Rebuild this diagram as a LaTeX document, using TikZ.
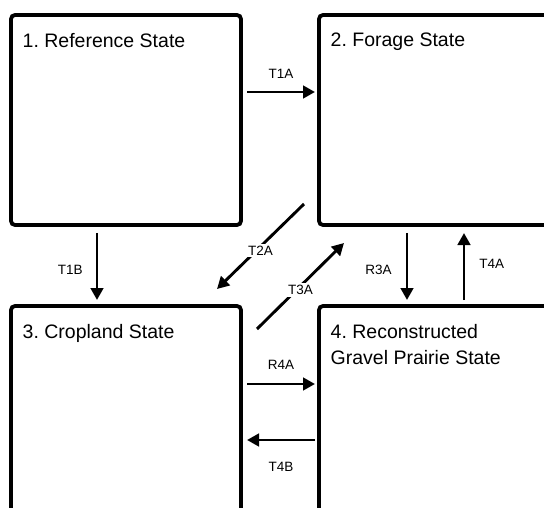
\documentclass[tikz,border=0pt]{standalone}
\usepackage{fontspec}
\setmainfont{Liberation Sans}
\usetikzlibrary{arrows.meta}
\frenchspacing

\tikzset{
  state/.style={draw, line width=3.8pt, rounded corners=4pt, minimum width=230pt,
    minimum height=210pt, inner sep=0pt, outer sep=0pt},
  statetext/.style={anchor=north west, inner sep=0pt, align=left,
    font=\fontsize{19.5}{26}\selectfont},
  trans/.style={line width=2.9pt, -{Triangle[length=12pt,width=12.5pt]}},
  lbl/.style={font=\fontsize{13.5}{16}\selectfont, inner sep=2pt},
}

\begin{document}
\begin{tikzpicture}[x=1pt,y=-1pt]
    \useasboundingbox (0,0) rectangle (544,508);
    \clip (0,0) rectangle (544,508);

    \node[state] (ref) at (126,120) {};
    \node[state] (forage) at (434,120) {};
    \node[state] (crop) at (126,411) {};
    \node[state] (recon) at (434,411) {};

    \node[statetext] (reftxt) at ([shift={(11.5,18)}]ref.north west) {1. Reference State};
    \node[statetext] (foragetxt) at ([shift={(11.5,18)}]forage.north west) {2. Forage State};
    \node[statetext] (croptxt) at ([shift={(11.5,18)}]crop.north west) {3. Cropland State};
    \node[statetext] (recontxt) at ([shift={(11.5,18)}]recon.north west) {4. Reconstructed\\Gravel Prairie State};

    \draw[trans] ([shift={(6,-28)}]ref.east) -- node[lbl, above=10pt] {T1A} ([shift={(-4,-28)}]forage.west);
    \draw[trans] ([shift={(-29,8)}]ref.south) -- node[lbl, left=11pt, yshift=-3pt] {T1B} ([shift={(-29,-6)}]crop.north);
    \draw[trans] ([shift={(-15,-21)}]forage.south west) -- node[lbl, fill=white, yshift=-4pt] {T2A} ([shift={(-24,-17)}]crop.north east);
    \draw[trans] ([shift={(16,23)}]crop.north east) -- node[lbl, fill=white, yshift=-4pt] {T3A} ([shift={(25,18)}]forage.south west);
    \draw[trans] ([shift={(-27,8)}]forage.south) -- node[lbl, left=12pt, yshift=-3pt] {R3A} ([shift={(-27,-6)}]recon.north);
    \draw[trans] ([shift={(30,-6)}]recon.north) -- node[lbl, right=12pt, yshift=3pt] {T4A} ([shift={(30,8)}]forage.south);
    \draw[trans] ([shift={(6,-27)}]crop.east) -- node[lbl, above=11pt] {R4A} ([shift={(-4,-27)}]recon.west);
    \draw[trans] ([shift={(-4,29)}]recon.west) -- node[lbl, below=19pt] {T4B} ([shift={(6,29)}]crop.east);
\end{tikzpicture}
\end{document}
